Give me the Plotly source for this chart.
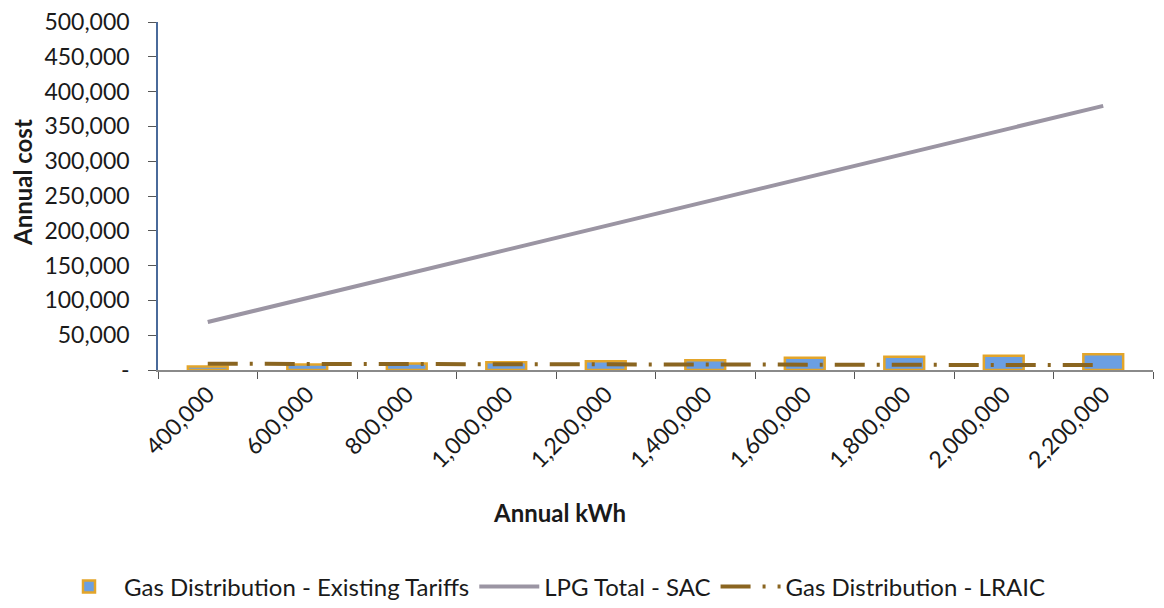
import plotly.graph_objects as go

kwh_labels = ["400,000", "600,000", "800,000", "1,000,000", "1,200,000",
              "1,400,000", "1,600,000", "1,800,000", "2,000,000", "2,200,000"]
existing_tariffs = [5000, 8000, 9500, 11000, 12500, 14000, 17500, 19000, 20500, 22500]
lpg_total_sac = [69000, 103500, 138000, 172500, 207000, 241500, 276000, 310500, 345000, 379500]
lraic = [9000, 8800, 8600, 8400, 8200, 8000, 7700, 7500, 7200, 7000]

y_tickvals = [0, 50000, 100000, 150000, 200000, 250000, 300000, 350000, 400000, 450000, 500000]
y_ticktext = ["-", "50,000", "100,000", "150,000", "200,000", "250,000", "300,000",
              "350,000", "400,000", "450,000", "500,000"]

FONT = "Lato"
TXT = "#1a1a1a"
# page body adds an 8px offset; plot area should land at screen x 158..1153, y 22..370
OFF = 8
L, T = 158 - OFF, 22 - OFF
PW, PH = 995, 348
R = 1164 - L - PW
B = 608 - T - PH
X0, Y0 = 158, 370  # screen coords of plot origin


def px_x(sx):
    return (sx - X0) / PW


def px_y(sy):
    return (Y0 - sy) / PH


fig = go.Figure()
fig.add_trace(go.Bar(
    x=kwh_labels, y=existing_tariffs, name="Gas Distribution - Existing Tariffs",
    width=0.4,
    marker=dict(color="#6b9fe2", line=dict(color="#e3a52a", width=2.5)),
))
fig.add_trace(go.Scatter(
    x=kwh_labels, y=lpg_total_sac, name="LPG Total - SAC", mode="lines",
    line=dict(color="#9b95a3", width=4),
))
fig.add_trace(go.Scatter(
    x=kwh_labels, y=lraic, name="Gas Distribution - LRAIC", mode="lines",
    line=dict(color="#8a6520", width=4, dash="30px,12px,3px,12px"),
))

fig.update_layout(
    width=1164, height=608,
    margin=dict(l=L, r=R, t=T, b=B, autoexpand=False),
    paper_bgcolor="white", plot_bgcolor="white",
    font=dict(family=FONT, size=23, color=TXT),
    showlegend=True,
    legend=dict(orientation="h", x=px_x(54), xanchor="left",
                y=px_y(587), yanchor="middle", itemwidth=60,
                font=dict(family=FONT, size=24, color=TXT), traceorder="normal"),
    xaxis=dict(
        type="category", range=[-0.5, 9.5], tickangle=-45, automargin=False,
        showline=True, linecolor="#8a8a8a", linewidth=1.5,
        ticks="outside", ticklen=7, tickcolor="#555", tickson="boundaries",
        showgrid=False, zeroline=False, ticklabeloverflow="allow",
        tickfont=dict(family=FONT, size=23, color=TXT),
    ),
    yaxis=dict(
        range=[0, 500000], tickvals=y_tickvals, ticktext=y_ticktext, automargin=False,
        showline=True, linecolor="#4a6a9a", linewidth=1.5,
        ticks="outside", ticklen=8, tickcolor="#555", ticklabelstandoff=14,
        showgrid=False, zeroline=False, ticklabeloverflow="allow",
        tickfont=dict(family=FONT, size=23, color=TXT),
    ),
    annotations=[
        dict(text="<b>Annual cost</b>", x=px_x(22), xref="paper",
             y=px_y(183), yref="paper",
             textangle=-90, showarrow=False, font=dict(family=FONT, size=24, color=TXT),
             xanchor="center", yanchor="middle"),
        dict(text="<b>Annual kWh</b>", x=px_x(559), xref="paper",
             y=px_y(512), yref="paper", showarrow=False,
             font=dict(family=FONT, size=24, color=TXT), xanchor="center", yanchor="middle"),
    ],
)

fig.write_html("out.html")
